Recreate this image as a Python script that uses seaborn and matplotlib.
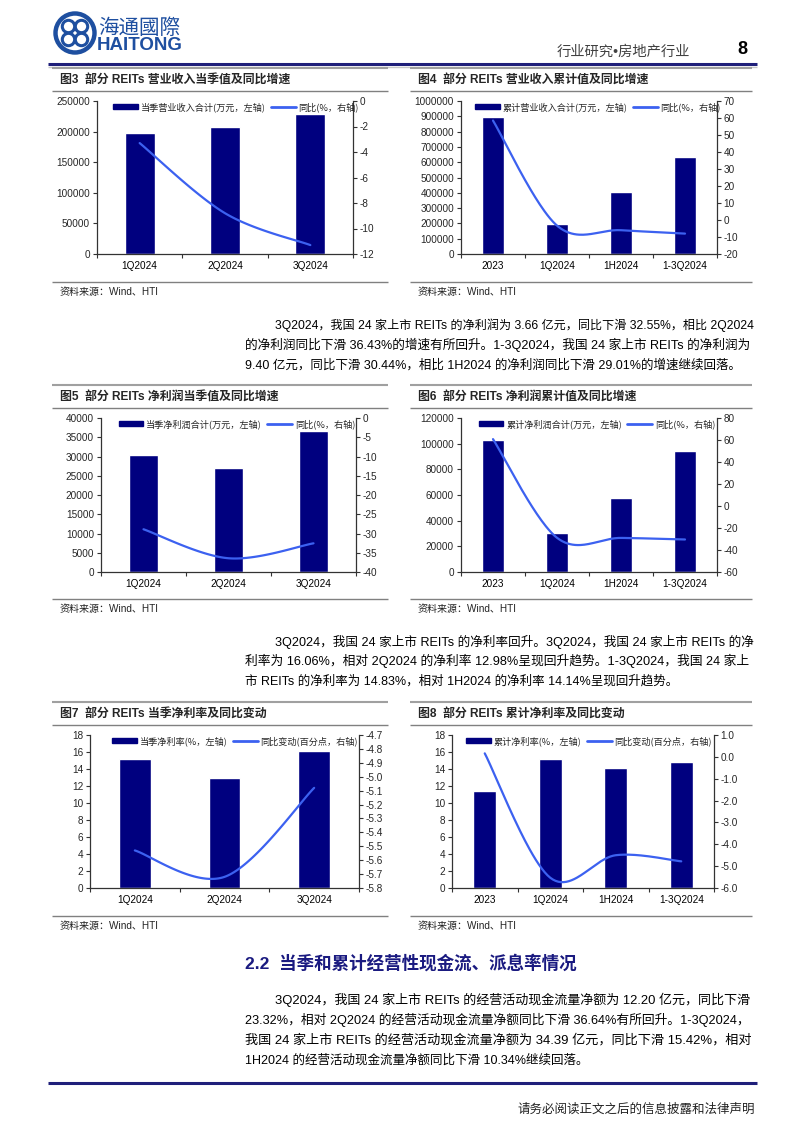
import numpy as np
import pandas as pd
import matplotlib
matplotlib.use('Agg')
import matplotlib.pyplot as plt
import seaborn as sns
from matplotlib.patches import Patch, Circle
from matplotlib.lines import Line2D
from matplotlib.font_manager import FontProperties

# ---------------- data ----------------
q_cats = ['1Q2024', '2Q2024', '3Q2024']
c_cats = ['2023', '1Q2024', '1H2024', '1-3Q2024']

rev_q = [198000, 208000, 228000]
rev_q_yoy = [-3.3, -8.8, -11.3]
rev_c = [893000, 198000, 406000, 634000]
rev_c_yoy = [58.5, -3.3, -6.0, -8.0]

np_q = [30300, 27000, 36600]
np_q_yoy = [-28.9, -36.43, -32.55]
np_c = [103000, 30300, 57300, 94000]
np_c_yoy = [60.8, -28.9, -29.01, -30.44]

nm_q = [15.22, 12.98, 16.06]
nm_q_chg = [-5.53, -5.72, -5.08]
nm_c = [11.47, 15.22, 14.14, 14.83]
nm_c_chg = [0.16, -5.53, -4.5, -4.78]

titles = ['图3  部分 REITs 营业收入当季值及同比增速', '图4  部分 REITs 营业收入累计值及同比增速',
          '图5  部分 REITs 净利润当季值及同比增速', '图6  部分 REITs 净利润累计值及同比增速',
          '图7  部分 REITs 当季净利率及同比变动', '图8  部分 REITs 累计净利率及同比变动']
bar_labels = ['当季营业收入合计(万元，左轴)', '累计营业收入合计(万元，左轴)',
              '当季净利润合计(万元，左轴)', '累计净利润合计(万元，左轴)',
              '当季净利率(%，左轴)', '累计净利率(%，左轴)']
line_labels = ['同比(%，右轴)', '同比(%，右轴)', '同比(%，右轴)', '同比(%，右轴)',
               '同比变动(百分点，右轴)', '同比变动(百分点，右轴)']
source = '资料来源：Wind、HTI'

para1 = ['3Q2024，我国 24 家上市 REITs 的净利润为 3.66 亿元，同比下滑 32.55%，相比 2Q2024',
         '的净利润同比下滑 36.43%的增速有所回升。1-3Q2024，我国 24 家上市 REITs 的净利润为',
         '9.40 亿元，同比下滑 30.44%，相比 1H2024 的净利润同比下滑 29.01%的增速继续回落。']
para2 = ['3Q2024，我国 24 家上市 REITs 的净利率回升。3Q2024，我国 24 家上市 REITs 的净',
         '利率为 16.06%，相对 2Q2024 的净利率 12.98%呈现回升趋势。1-3Q2024，我国 24 家上',
         '市 REITs 的净利率为 14.83%，相对 1H2024 的净利率 14.14%呈现回升趋势。']
heading = '2.2  当季和累计经营性现金流、派息率情况'
para3 = ['3Q2024，我国 24 家上市 REITs 的经营活动现金流量净额为 12.20 亿元，同比下滑',
         '23.32%，相对 2Q2024 的经营活动现金流量净额同比下滑 36.64%有所回升。1-3Q2024，',
         '我国 24 家上市 REITs 的经营活动现金流量净额为 34.39 亿元，同比下滑 15.42%，相对',
         '1H2024 的经营活动现金流量净额同比下滑 10.34%继续回落。']
header_txt = '行业研究•房地产行业'
page_no = '8'
footer = '请务必阅读正文之后的信息披露和法律声明'

# ---------------- style ----------------
sns.set_theme(style='white')
plt.rcParams['font.family'] = ['Liberation Sans', 'Noto Sans CJK SC', 'DejaVu Sans']
plt.rcParams['axes.unicode_minus'] = False

NAVY = '#00007F'
BLUE = '#3C61F0'
LOGO = '#1E4FA0'
SPINE = '#333333'
GREY = '#8C8C8C'
W, H = 802, 1133

fig = plt.figure(figsize=(W / 100, H / 100), dpi=100)
page = fig.add_axes([0, 0, 1, 1])
page.set_xlim(0, W)
page.set_ylim(H, 0)
page.axis('off')

CJK = ['Liberation Sans', 'Noto Sans CJK SC', 'DejaVu Sans']


def rect(x0, y0, x1, y1):
    return [x0 / W, 1 - y1 / H, (x1 - x0) / W, (y1 - y0) / H]


def smooth(vals, n=50):
    y = np.asarray(vals, float)
    x = np.arange(len(y), dtype=float)
    px = np.concatenate([[x[0]], x, [x[-1]]])
    py = np.concatenate([[y[0]], y, [y[-1]]])
    t = np.linspace(0, 1, n)
    xs, ys = [], []
    for i in range(len(y) - 1):
        P0 = np.array([px[i], py[i]]); P1 = np.array([px[i + 1], py[i + 1]])
        P2 = np.array([px[i + 2], py[i + 2]]); P3 = np.array([px[i + 3], py[i + 3]])
        C1 = P1 + (P2 - P0) / 6
        C2 = P2 - (P3 - P1) / 6
        for tt in t:
            b = ((1 - tt) ** 3) * P1 + 3 * ((1 - tt) ** 2) * tt * C1 + 3 * (1 - tt) * tt ** 2 * C2 + tt ** 3 * P2
            xs.append(b[0]); ys.append(b[1])
    return np.array(xs), np.array(ys)


def panel(box, cats, bars, line, lmax, lstep, rmin, rmax, rstep, rfmt, blab, llab, legc):
    ax = fig.add_axes(rect(*box))
    df = pd.DataFrame({'cat': cats, 'val': bars})
    sns.barplot(data=df, x='cat', y='val', color=NAVY, saturation=1, width=0.35, ax=ax)
    n = len(cats)
    ax.set_xlim(-0.5, n - 0.5)
    ax.set_ylim(0, lmax)
    ax.set_yticks(np.arange(0, lmax + lstep / 2, lstep))
    ax.set_yticklabels([f'{v:g}' if lmax < 100 else f'{int(v)}' for v in np.arange(0, lmax + lstep / 2, lstep)])
    ax.set_xlabel(''); ax.set_ylabel('')
    ax.set_xticks(range(n))
    ax.set_xticklabels(cats)
    ax.set_xticks(np.arange(-0.5, n, 1.0), minor=True)
    ax.tick_params(axis='x', which='major', length=0, pad=5, labelsize=7.2, colors='black')
    ax.tick_params(axis='x', which='minor', length=3, width=0.8, color=SPINE, direction='out', bottom=True)
    ax.tick_params(axis='y', length=3, width=0.8, color=SPINE, direction='out', labelsize=7.2, pad=2, left=True)
    ax.spines['top'].set_visible(False)
    ax.spines['right'].set_visible(False)
    for s in ('left', 'bottom'):
        ax.spines[s].set_color(SPINE); ax.spines[s].set_linewidth(0.9)
    ax.patch.set_alpha(0)

    ax2 = ax.twinx()
    xs, ys = smooth(line)
    sns.lineplot(x=xs, y=ys, ax=ax2, sort=False, estimator=None, color=BLUE, linewidth=1.6)
    ax2.set_ylim(rmin, rmax)
    rt = np.arange(rmin, rmax + rstep / 2, rstep)
    ax2.set_yticks(rt)
    ax2.set_yticklabels([rfmt.format(v + 0.0) for v in rt])
    ax2.set_xlim(-0.5, n - 0.5)
    ax2.set_xlabel(''); ax2.set_ylabel('')
    ax2.tick_params(axis='y', length=3, width=0.8, color=SPINE, direction='out', labelsize=7.2, pad=1.5, right=True)
    for s in ('top', 'left', 'bottom'):
        ax2.spines[s].set_visible(False)
    ax2.spines['right'].set_color(SPINE); ax2.spines['right'].set_linewidth(0.9)

    handles = [Patch(facecolor=NAVY, edgecolor=NAVY), Line2D([], [], color=BLUE, lw=2)]
    ax2.legend(handles, [blab, llab], loc='center', bbox_to_anchor=(legc[0] / W, 1 - legc[1] / H),
               bbox_transform=fig.transFigure, ncol=2, frameon=False,
               prop=FontProperties(family=['Noto Sans CJK SC'], size=6.6),
               handlelength=2.7, handleheight=0.55, columnspacing=0.6, handletextpad=0.3, borderpad=0)
    return ax, ax2


def hline(x0, x1, y, color=GREY, lw=1.2):
    page.plot([x0, x1], [y, y], color=color, lw=lw, solid_capstyle='butt')


# ---------------- header ----------------
page.add_patch(Circle((75, 33), 19.5, fill=False, edgecolor=LOGO, lw=3.2))
for dx, dy in [(-6.5, -6.5), (6.5, -6.5), (-6.5, 6.5), (6.5, 6.5)]:
    page.add_patch(Circle((75 + dx, 33 + dy), 6.2, fill=False, edgecolor=LOGO, lw=2.2))
page.text(98, 28, '海通國際', fontsize=14.8, color=LOGO, va='center', ha='left', family=['Noto Sans CJK SC'])
page.text(97, 46, 'HAITONG', fontsize=13.5, color=LOGO, va='center', ha='left', fontweight='bold',
          family=['Liberation Sans'])
page.text(690, 52, header_txt, fontsize=10.3, color='#404040', ha='right', va='center', family=CJK)
page.text(742, 49, page_no, fontsize=13, color='black', ha='center', va='center', fontweight='bold')
hline(48, 757, 63.5, color='#1F1F7A', lw=2.2)
hline(48, 757, 66.5, color='#C8C8C8', lw=1.0)

# ---------------- panel frames ----------------
LP = (52, 388)
RP = (410, 752)
rows = [(68, 91, 282, 292, 80), (385, 408, 599, 609, 397), (702, 725, 916, 926, 714)]
k = 0
for (ytop, ytl, ysrc, ysrct, ytt) in rows:
    for (px0, px1) in (LP, RP):
        hline(px0, px1, ytop, color='#A0A0A0', lw=1.5)
        hline(px0, px1, ytl, color='#808080', lw=1.0)
        hline(px0, px1, ysrc, color='#808080', lw=1.0)
        page.text(px0 + 8, ytt, titles[k], fontsize=8.6, fontweight='bold', va='center', ha='left', family=CJK)
        page.text(px0 + 8, ysrct, source, fontsize=7.2, va='center', ha='left', family=CJK, color='#222222')
        k += 1

# ---------------- charts ----------------
panel((97, 101, 353, 254), q_cats, rev_q, rev_q_yoy, 250000, 50000, -12, 0, 2, '{:g}',
      bar_labels[0], line_labels[0], (236, 107))
panel((461, 101, 717, 254), c_cats, rev_c, rev_c_yoy, 1000000, 100000, -20, 70, 10, '{:g}',
      bar_labels[1], line_labels[1], (598, 107))
panel((101, 418, 356, 572), q_cats, np_q, np_q_yoy, 40000, 5000, -40, 0, 5, '{:g}',
      bar_labels[2], line_labels[2], (237, 424))
panel((461, 418, 717, 572), c_cats, np_c, np_c_yoy, 120000, 20000, -60, 80, 20, '{:g}',
      bar_labels[3], line_labels[3], (597, 424))
panel((90, 735, 359, 888), q_cats, nm_q, nm_q_chg, 18, 2, -5.8, -4.7, 0.1, '{:.1f}',
      bar_labels[4], line_labels[4], (235, 741))
panel((452, 735, 714, 888), c_cats, nm_c, nm_c_chg, 18, 2, -6, 1, 1, '{:.1f}',
      bar_labels[5], line_labels[5], (589, 741))

# ---------------- body text ----------------
renderer = fig.canvas.get_renderer()
BASE = 9.0


def put_line(x0, x1, y, s, justify=True):
    t = page.text(x0, y, s, fontsize=BASE, va='center', ha='left', family=CJK, color='black')
    if justify:
        w = t.get_window_extent(renderer).width
        t.set_fontsize(BASE * (x1 - x0) / w)


def paragraph(lines, ys):
    for i, (s, y) in enumerate(zip(lines, ys)):
        x0 = 275 if i == 0 else 245
        put_line(x0, 752, y, s, justify=(i < len(lines) - 1))


paragraph(para1, [325, 345, 365])
paragraph(para2, [642, 661, 681])
page.text(245, 963, heading, fontsize=12.6, fontweight='bold', color='#1A1A80', va='center', ha='left', family=CJK)
paragraph(para3, [1000, 1020, 1040, 1060])

hline(48, 757, 1083, color='#1F1F7A', lw=2.2)
page.text(755, 1110, footer, fontsize=9, ha='right', va='center', family=CJK, color='#222222')

fig.savefig('out.png', dpi=100)
